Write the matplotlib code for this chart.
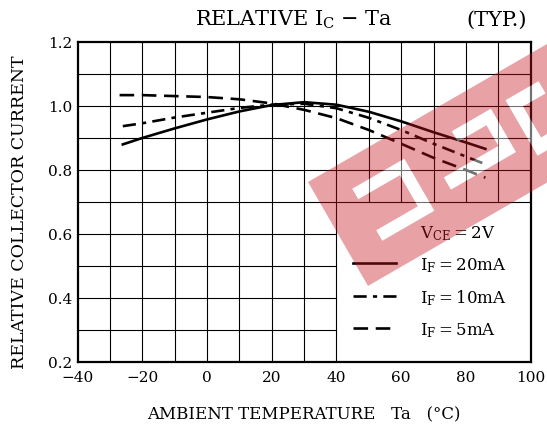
import matplotlib
matplotlib.use('Agg')
import matplotlib.pyplot as plt
import numpy as np
from matplotlib.lines import Line2D
from matplotlib.path import Path
from matplotlib.patches import PathPatch
from matplotlib.transforms import Affine2D

# ==================== data ====================
temp_20mA = [-26, -20, -10, 0, 10, 20, 30, 40, 50, 60, 70, 80, 86]
ic_20mA = [0.880, 0.900, 0.930, 0.958, 0.983, 1.003, 1.012, 1.004, 0.982, 0.952, 0.918, 0.886, 0.866]

temp_10mA = [-26, -20, -10, 0, 10, 20, 30, 40, 50, 60, 70, 80, 86]
ic_10mA = [0.937, 0.946, 0.964, 0.979, 0.994, 1.004, 1.007, 0.993, 0.963, 0.925, 0.882, 0.842, 0.818]

temp_5mA = [-27, -20, -10, 0, 10, 20, 30, 40, 50, 60, 70, 80, 86]
ic_5mA = [1.034, 1.034, 1.031, 1.028, 1.021, 1.008, 0.988, 0.962, 0.925, 0.882, 0.838, 0.800, 0.776]

x_ticks = [-40, -20, 0, 20, 40, 60, 80, 100]
y_ticks = [0.2, 0.4, 0.6, 0.8, 1.0, 1.2]
series_labels = [r'$\mathregular{I_F=20mA}$', r'$\mathregular{I_F=10mA}$', r'$\mathregular{I_F=5mA}$']
# ============================================================================

plt.rcParams['font.family'] = ['DejaVu Serif']
plt.rcParams['mathtext.fontset'] = 'custom'
plt.rcParams['mathtext.rm'] = 'DejaVu Serif'
plt.rcParams['lines.scale_dashes'] = False

W, H = 547, 431
fig = plt.figure(figsize=(W / 100, H / 100), dpi=100)
# plot area in pixel coordinates of the picture
left, right, top, bottom = 77.5, 530.7, 43, 363
ax = fig.add_axes([left / W, 1 - bottom / H, (right - left) / W, (bottom - top) / H])
ax.set_xlim(-40, 100)
ax.set_ylim(0.2, 1.2)

# grid, left open where the legend sits (x > 40, y < 0.7)
for gx in range(-30, 100, 10):
    ymin = 0.2 if gx <= 40 else 0.7
    ax.plot([gx, gx], [ymin, 1.2], color='black', lw=0.8, zorder=1)
for gy in np.arange(0.3, 1.15, 0.1):
    xmax = 100 if gy >= 0.69 else 40
    ax.plot([-40, xmax], [gy, gy], color='black', lw=0.8, zorder=1)

dash_10 = (9.5, 4.5, 3, 4.5)
dash_5 = (10.5, 5.5)
ln20, = ax.plot(temp_20mA, ic_20mA, color='black', lw=1.9, zorder=3)
ln10, = ax.plot(temp_10mA, ic_10mA, color='black', lw=1.9, zorder=3, dashes=dash_10)
ln5, = ax.plot(temp_5mA, ic_5mA, color='black', lw=1.9, zorder=3, dashes=dash_5)

ax.set_xticks(x_ticks)
ax.set_yticks(y_ticks)
ax.set_yticklabels([f'{v:.1f}' for v in y_ticks])
ax.tick_params(length=0, labelsize=11)
ax.tick_params(axis='x', pad=6)
ax.tick_params(axis='y', pad=4)
for s in ax.spines.values():
    s.set_linewidth(1.6)

ax.set_xlabel('AMBIENT TEMPERATURE   Ta   (\u00b0C)', fontsize=12, labelpad=15)
ax.set_ylabel('RELATIVE COLLECTOR CURRENT', fontsize=12.5)
ax.yaxis.set_label_coords((28 - left) / (right - left), (bottom - 212) / (bottom - top))

fig.text(195 / W, 1 - 20 / H, 'RELATIVE $\\mathregular{I_C}$ \u2212 Ta',
         fontsize=15, ha='left', va='center')
fig.text(527 / W, 1 - 20 / H, '(TYP.)', fontsize=15, ha='right', va='center')

blank = Line2D([], [], linestyle='none')
h10 = Line2D([], [], color='black', lw=1.9, dashes=dash_10)
h5 = Line2D([], [], color='black', lw=1.9, dashes=dash_5)
ax.legend([blank, ln20, h10, h5], [r'$\mathregular{V_{CE}=2V}$'] + series_labels,
          loc='upper left', bbox_to_anchor=(353 / W, 1 - 224 / H),
          bbox_transform=fig.transFigure, frameon=False, fontsize=12,
          handlelength=2.6, handletextpad=1.4, labelspacing=0.8,
          borderpad=0, borderaxespad=0)

# red watermark band laid over the chart
img = Affine2D().scale(1 / W, -1 / H).translate(0, 1) + fig.transFigure
band_tr = Affine2D().rotate_deg(-30).translate(308, 183) + img


def rect(u0, u1, v0, v1, hole=False):
    pts = [(u0, v0), (u1, v0), (u1, v1), (u0, v1)]
    if hole:
        pts = pts[::-1]
    return pts + [pts[0]], [Path.MOVETO, Path.LINETO, Path.LINETO, Path.LINETO, Path.CLOSEPOLY]


holes = [(35, 95, 28, 40), (83, 95, 40, 76), (35, 95, 76, 88),
         (150, 195, 28, 40), (183, 195, 40, 64), (120, 195, 64, 78),
         (212, 250, 28, 42), (212, 224, 42, 78), (212, 240, 78, 92)]
verts, codes = rect(0, 340, 0, 120)
for hb in holes:
    v, c = rect(*hb, hole=True)
    verts += v
    codes += c
fig.add_artist(PathPatch(Path(verts, codes), transform=band_tr,
                         facecolor=(0.78, 0.08, 0.12), alpha=0.4, edgecolor='none'))
for hb in holes:
    v, c = rect(*hb)
    fig.add_artist(PathPatch(Path(v, c), transform=band_tr,
                             facecolor='white', alpha=0.45, edgecolor='none'))

plt.savefig('out.png', dpi=100)
